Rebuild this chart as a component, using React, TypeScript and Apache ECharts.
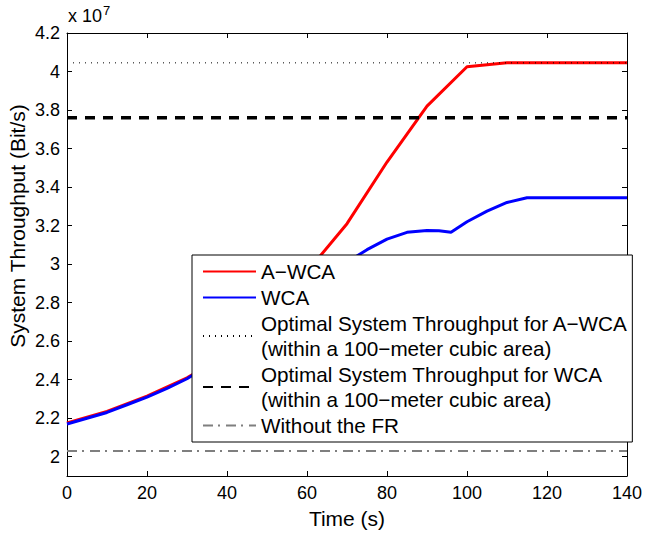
import React, { useEffect, useRef } from "react";
import * as echarts from "echarts";

// Values in units of 10^7 Bit/s
const timeAWCA = [0, 10, 20, 30, 40, 50, 60, 70, 80, 90, 100, 110, 120, 130, 140];
const throughputAWCA = [2.175, 2.235, 2.315, 2.41, 2.53, 2.71, 2.96, 3.21, 3.53, 3.82, 4.025, 4.045, 4.045, 4.045, 4.045];
const timeWCA = [0, 5, 10, 15, 20, 25, 30, 35, 40, 45, 50, 55, 60, 65, 70, 75, 80, 85, 90, 93, 96, 100, 105, 110, 115, 120, 130, 140];
const throughputWCA = [2.17, 2.2, 2.23, 2.27, 2.31, 2.355, 2.405, 2.47, 2.54, 2.62, 2.7, 2.78, 2.86, 2.94, 3.01, 3.075, 3.13, 3.165, 3.175, 3.173, 3.166, 3.22, 3.275, 3.32, 3.345, 3.345, 3.345, 3.345];
const optimalAWCA = 4.045;
const optimalWCA = 3.76;
const withoutFR = 2.03;
const timeRange = [0, 140];
const yTicks = [2, 2.2, 2.4, 2.6, 2.8, 3, 3.2, 3.4, 3.6, 3.8, 4, 4.2];
const xTicks = [0, 20, 40, 60, 80, 100, 120, 140];

const names = [
  "A\u2212WCA",
  "WCA",
  "Optimal System Throughput for A\u2212WCA\n(within a 100\u2212meter cubic area)",
  "Optimal System Throughput for WCA\n(within a 100\u2212meter cubic area)",
  "Without the FR",
];

const FONT = "'Liberation Sans', Arial, Helvetica, sans-serif";

export default function App() {
  const ref = useRef<HTMLDivElement>(null);
  useEffect(() => {
    if (!ref.current) return;
    const chart = echarts.init(ref.current, undefined, { renderer: "svg" });
    const pair = (xs: number[], ys: number[]) => xs.map((x, i) => [x, ys[i]]);
    const flat = (v: number) => timeRange.map((x) => [x, v]);
    const axisCommon = {
      axisLine: { show: true, onZero: false, lineStyle: { color: "#000", width: 1 } },
      splitLine: { show: false },
    };
    const hiddenSymbol = (color: string) => ({ color, opacity: 0 });
    chart.setOption({
      animation: false,
      backgroundColor: "#fff",
      textStyle: { fontFamily: FONT },
      grid: { left: 67, top: 33, width: 560, height: 443, outerBoundsMode: "none" },
      xAxis: [
        {
          ...axisCommon,
          type: "value",
          min: 0,
          max: 140,
          interval: 20,
          position: "bottom",
          axisTick: { inside: true, length: 5, lineStyle: { color: "#000" } },
          axisLabel: { color: "#000", fontSize: 18, margin: 8, fontFamily: FONT, customValues: xTicks },
          name: "Time (s)",
          nameLocation: "middle",
          nameGap: 32,
          nameTextStyle: { color: "#000", fontSize: 21, fontFamily: FONT },
        },
        {
          ...axisCommon,
          type: "value",
          min: 0,
          max: 140,
          interval: 20,
          position: "top",
          axisTick: { inside: true, length: 5, lineStyle: { color: "#000" } },
          axisLabel: { show: false },
        },
      ],
      yAxis: [
        {
          ...axisCommon,
          type: "value",
          min: 1.9,
          max: 4.2,
          position: "left",
          axisTick: { inside: true, length: 5, lineStyle: { color: "#000" }, customValues: yTicks },
          axisLabel: { color: "#000", fontSize: 18, margin: 7, fontFamily: FONT, customValues: yTicks },
        },
        {
          ...axisCommon,
          type: "value",
          min: 1.9,
          max: 4.2,
          position: "right",
          axisTick: { inside: true, length: 5, lineStyle: { color: "#000" }, customValues: yTicks },
          axisLabel: { show: false, customValues: yTicks },
        },
      ],
      legend: {
        orient: "vertical",
        left: 192,
        top: 255,
        padding: [4, 4, 4, 10],
        itemGap: 1,
        itemWidth: 53,
        itemHeight: 14,
        backgroundColor: "#fff",
        borderColor: "#000",
        borderWidth: 1,
        borderRadius: 0,
        itemStyle: { opacity: 0 },
        data: names,
        textStyle: { color: "#000", fontSize: 20.7, lineHeight: 25, fontFamily: FONT },
      },
      graphic: [
        {
          type: "text",
          left: 68,
          top: 4,
          style: {
            text: "x 10{s|7}",
            fontSize: 18,
            fontFamily: FONT,
            fill: "#000",
            rich: { s: { fontSize: 13, verticalAlign: "top", padding: [0, 0, 10, 1], fontFamily: FONT } },
          },
        },
        {
          type: "text",
          x: 17.5,
          y: 226,
          rotation: Math.PI / 2,
          style: {
            text: "System Throughput (Bit/s)",
            fontSize: 21,
            fontFamily: FONT,
            fill: "#000",
            align: "center",
            verticalAlign: "middle",
          },
        },
      ],
      series: [
        {
          name: names[0],
          type: "line",
          data: pair(timeAWCA, throughputAWCA),
          symbol: "none",
          lineStyle: { color: "#ff0000", width: 3 },
          itemStyle: hiddenSymbol("#ff0000"),
        },
        {
          name: names[1],
          type: "line",
          data: pair(timeWCA, throughputWCA),
          symbol: "none",
          lineStyle: { color: "#0000ff", width: 3 },
          itemStyle: hiddenSymbol("#0000ff"),
        },
        {
          name: names[2],
          type: "line",
          data: flat(optimalAWCA),
          symbol: "none",
          lineStyle: { color: "#000", width: 1, type: [1, 5] },
          itemStyle: hiddenSymbol("#000"),
        },
        {
          name: names[3],
          type: "line",
          data: flat(optimalWCA),
          symbol: "none",
          lineStyle: { color: "#000", width: 3.5, type: [10, 8] },
          itemStyle: hiddenSymbol("#000"),
        },
        {
          name: names[4],
          type: "line",
          data: flat(withoutFR),
          symbol: "none",
          lineStyle: { color: "#7f7f7f", width: 2, type: [10, 5, 2, 6] },
          itemStyle: hiddenSymbol("#7f7f7f"),
        },
      ],
    });
    return () => chart.dispose();
  }, []);
  return <div ref={ref} style={{ width: 645, height: 533, position: "absolute", left: 0, top: 0 }} />;
}
